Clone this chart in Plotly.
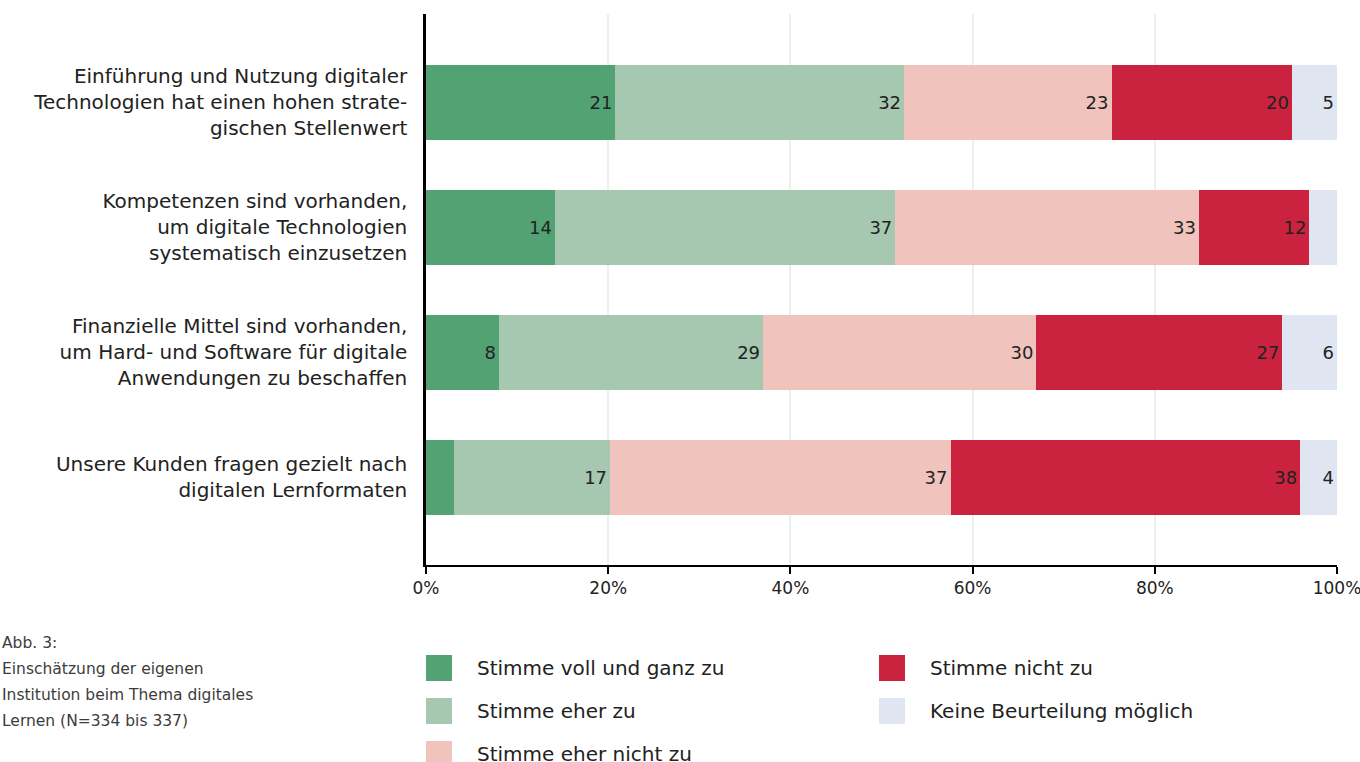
import plotly.graph_objects as go

# Survey statements (top to bottom) and answer shares in percent
statements = [
    "Einführung und Nutzung digitaler<br>Technologien hat einen hohen strate-<br>gischen Stellenwert",
    "Kompetenzen sind vorhanden,<br>um digitale Technologien<br>systematisch einzusetzen",
    "Finanzielle Mittel sind vorhanden,<br>um Hard- und Software für digitale<br>Anwendungen zu beschaffen",
    "Unsere Kunden fragen gezielt nach<br>digitalen Lernformaten",
]
answers = [
    "Stimme voll und ganz zu",
    "Stimme eher zu",
    "Stimme eher nicht zu",
    "Stimme nicht zu",
    "Keine Beurteilung möglich",
]
voll_und_ganz = [21, 14, 8, 3]
eher_zu = [32, 37, 29, 17]
eher_nicht = [23, 33, 30, 37]
nicht_zu = [20, 12, 27, 38]
keine_beurteilung = [5, 3, 6, 4]
# segments too narrow to carry a number stay unlabelled
unlabelled = {(0, 3), (4, 1)}

x_ticks = [0, 20, 40, 60, 80, 100]
x_tick_labels = ["0%", "20%", "40%", "60%", "80%", "100%"]

colors = ["#52a273", "#a6c8b0", "#f0c4bd", "#cb2240", "#dfe5f1"]
series = [voll_und_ganz, eher_zu, eher_nicht, nicht_zu, keine_beurteilung]

FONT = "DejaVu Sans"
TXT = "#222222"

# plot area in pixels
L, R, T, B = 426, 1337, 14, 565
W, H = 1360, 762


def px(x):
    return (x - L) / (R - L)


def py(y):
    return (B - y) / (B - T)


fig = go.Figure()
for si, (name, vals, col) in enumerate(zip(answers, series, colors)):
    labels = ["" if (si, ri) in unlabelled else str(v) for ri, v in enumerate(vals)]
    fig.add_trace(go.Bar(
        y=statements, x=vals, name=name, orientation="h",
        marker=dict(color=col, line=dict(width=0)),
        text=labels, textposition="inside", insidetextanchor="end",
        textfont=dict(family=FONT, size=18, color=TXT),
        textangle=0, showlegend=False,
    ))

fig.update_layout(
    width=W, height=H,
    margin=dict(l=L, r=W - R, t=T, b=H - B, autoexpand=False),
    barmode="stack", barnorm="percent", bargap=0.4,
    plot_bgcolor="white", paper_bgcolor="white",
    font=dict(family=FONT, color=TXT),
    uniformtext=dict(minsize=10, mode="show"),
)
fig.update_xaxes(
    range=[0, 100], tickmode="array", tickvals=x_ticks, ticktext=x_tick_labels,
    automargin=False, ticklabeloverflow="allow",
    showgrid=True, gridcolor="#e9f1ed", gridwidth=2,
    showline=True, linecolor="black", linewidth=2,
    ticks="outside", ticklen=7, tickwidth=2, tickcolor="black",
    tickfont=dict(family=FONT, size=17, color=TXT),
    zeroline=False,
)
fig.update_yaxes(
    type="category", categoryorder="array", categoryarray=statements,
    range=[3.704, -0.704], automargin=False,
    showline=True, linecolor="black", linewidth=2.5,
    ticks="", ticklabelstandoff=12,
    tickfont=dict(family=FONT, size=20, color=TXT),
    showgrid=False, zeroline=False,
)

# legend: two columns of coloured squares with labels
legend_pos = [(426, 668), (426, 711), (426, 754), (879, 668), (879, 711)]
for (lx, ly), name, col in zip(legend_pos, answers, colors):
    fig.add_shape(type="rect", xref="paper", yref="paper",
                  x0=px(lx), x1=px(lx + 26), y0=py(ly - 13), y1=py(ly + 13),
                  fillcolor=col, line=dict(width=0), layer="above")
    fig.add_annotation(xref="paper", yref="paper", x=px(lx + 49), y=py(ly),
                       xanchor="left", yanchor="middle", showarrow=False,
                       text=name, font=dict(family=FONT, size=20, color=TXT))

# figure caption, bottom left
caption = ["Abb. 3:", "Einschätzung der eigenen",
           "Institution beim Thema digitales", "Lernen (N=334 bis 337)"]
for i, line in enumerate(caption):
    fig.add_annotation(xref="paper", yref="paper", x=px(0), y=py(643 + 26 * i),
                       xanchor="left", yanchor="middle", showarrow=False,
                       text=line,
                       font=dict(family=FONT, size=15.5, color="#3c3c3c"))

fig.write_html("out.html")
